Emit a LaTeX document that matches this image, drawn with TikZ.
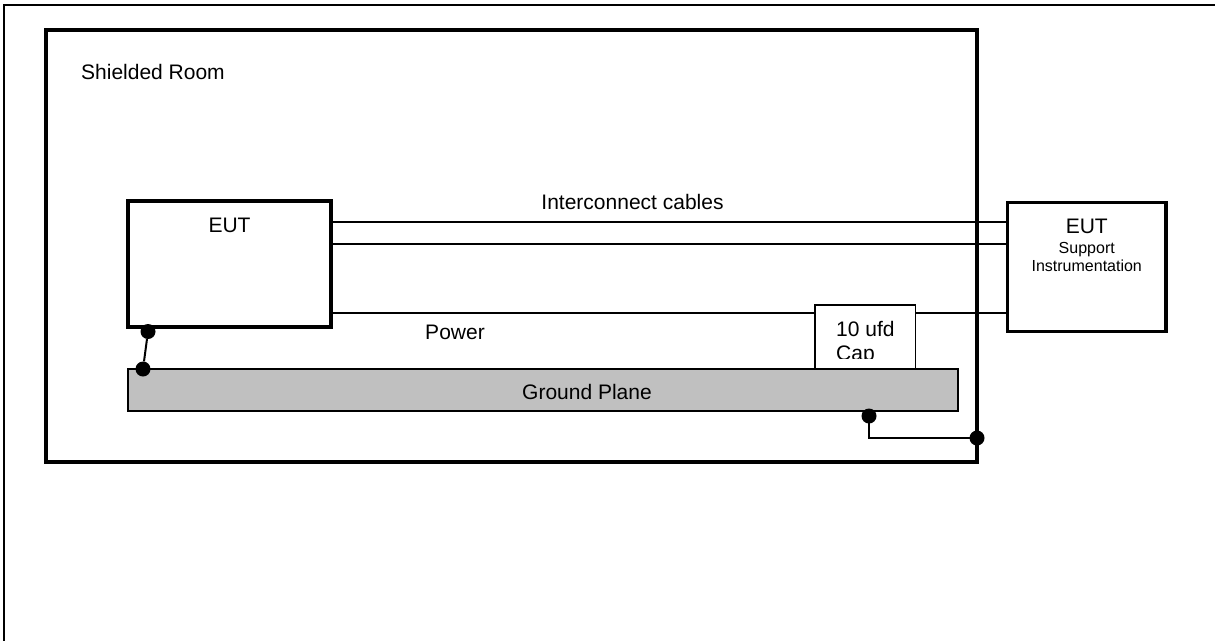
\documentclass[tikz,border=0pt]{standalone}
\usepackage{fontspec}
\setmainfont{Liberation Sans}
\usetikzlibrary{positioning}
\definecolor{plane}{RGB}{192,192,192}
\tikzset{
  box/.style={draw, line width=3.3pt, fill=white, anchor=north west, inner sep=0pt, outer sep=0pt},
  cable/.style={line width=2pt},
  joint/.style={circle, fill=black, inner sep=0pt, minimum size=15pt},
  lbl/.style={font=\fontsize{21}{25}\selectfont, inner sep=0pt},
  small/.style={font=\fontsize{16}{19}\selectfont, inner sep=0pt},
}

\begin{document}
\begin{tikzpicture}[x=1pt,y=-1pt]
\useasboundingbox (0,0) rectangle (1215,641);
% page frame
\draw[line width=2.5pt] (1215,5) -- (4,5) -- (4,641);
% shielded room and boxes
\node[box, line width=4pt, minimum width=931pt, minimum height=432pt] (room) at (46,29.5) {};
\node[box, minimum width=203pt, minimum height=126pt] (eut) at (128,201) {};
\node[box, minimum width=158.5pt, minimum height=129pt] (support) at (1007.5,202.5) {};
\node[box, line width=2pt, fill=plane, minimum width=830pt, minimum height=42.5pt] (ground) at (128,368.5) {};
\coordinate (c1) at (0,222);
\coordinate (c2) at (0,244);
\coordinate (c3) at (0,312.5);
\draw[cable] (eut.east |- c1) -- (support.west |- c1);
\draw[cable] (eut.east |- c2) -- (support.west |- c2);
\draw[cable] (eut.east |- c3) -- (support.west |- c3);
\node[box, line width=1.7pt, minimum width=100.5pt, minimum height=64pt] (cap) at (815,305) {};
% labels
\node[lbl, anchor=base west] (roomlbl) at (81,79) {Shielded Room};
\node[lbl, anchor=base] (eutlbl) at (eut.north |- 0,232) {EUT};
\node[lbl, anchor=base] (suplbl) at (support.north |- 0,233) {EUT};
\node[small, anchor=base] (sup1) at (support.north |- 0,253) {Support};
\node[small, anchor=base] (sup2) at (support.north |- 0,271) {Instrumentation};
\node[lbl, anchor=base] (cablelbl) at (632.5,209) {Interconnect cables};
\node[lbl, anchor=base] (powerlbl) at (455,339) {Power};
\node[lbl, anchor=base] (groundlbl) at (587,399) {Ground Plane};
\begin{scope}
  \clip (cap.north west) rectangle (cap.east |- 0,358);
  \node[lbl, anchor=base west] (cap1) at (836,336) {10 ufd};
  \node[lbl, anchor=base west] (cap2) at (836,360) {Cap};
\end{scope}
% bonding straps
\node[joint] (j1) at (148,331.5) {};
\node[joint] (j2) at (143,369) {};
\node[joint] (j3) at (869,416) {};
\node[joint] (j4) at (977,438) {};
\draw[cable] (j1) -- (j2);
\draw[line width=1.7pt] (j3.center) |- (j4.center);
\end{tikzpicture}
\end{document}
